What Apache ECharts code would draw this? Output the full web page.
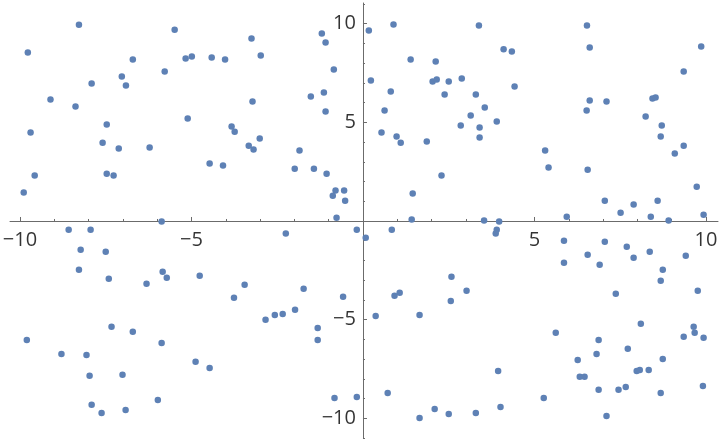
<!DOCTYPE html>
<html>
<head>
<meta charset="utf-8">
<script src="https://cdn.jsdelivr.net/npm/echarts@6/dist/echarts.min.js"></script>
<style>html,body{margin:0;padding:0;background:#fff;}#chart{width:720px;height:442px;}</style>
</head>
<body>
<div id="chart"></div>
<script>
// x and y values of the scatter points
const xValues = [
  -8.28,-5.49,-9.77,-6.71,-5.17,-4.99,-4.41,-4.02,-5.78,-7.03,-6.91,-7.91,-9.11,-8.38,-5.11,-7.47,-9.69,-3.83,-3.74,-7.59,-7.12,-6.22,-4.47,-4.08,-9.57,-7.47,-7.27,-9.89,-5.87,
  -3.25,-2.98,-3.22,-3.01,-3.33,-3.19,-1.20,-1.09,-0.85,-1.52,-1.14,-1.09,-1.85,-1.99,-1.43,-1.06,-0.80,-0.55,-0.88,-0.52,-0.77,0.17,0.89,3.38,0.23,1.39,2.12,2.03,2.15,2.50,2.88,0.81,2.38,3.29,0.63,3.14,2.85,3.40,3.40,0.54,0.98,1.10,1.86,2.29,1.45,1.42,
  6.53,6.61,4.10,4.34,4.42,3.55,3.90,6.61,7.10,6.52,8.44,8.53,9.86,9.35,8.24,8.71,8.68,9.35,9.09,5.31,5.41,6.55,9.73,7.05,7.89,8.59,7.51,5.94,8.39,9.93,8.91,3.53,3.97,
  -8.58,-7.94,-8.23,-7.50,-8.28,-7.41,-6.31,-5.84,-5.72,-4.76,-3.76,-7.33,-6.71,-9.80,-5.87,-8.79,-8.06,-4.88,-4.47,-7.97,-7.01,-5.98,-7.91,-7.62,-6.92,
  -2.25,-0.18,0.08,0.84,-3.45,-1.73,-0.58,-1.98,-2.34,-2.57,-2.84,-1.32,-1.32,-0.83,-0.18,0.72,0.37,0.92,1.07,1.65,2.58,2.56,3.02,1.65,2.09,2.50,3.29,
  3.90,3.87,5.86,7.05,7.69,8.36,6.55,7.89,5.86,6.90,9.41,8.74,8.68,9.76,7.37,8.10,9.64,9.67,9.35,9.93,5.62,6.87,7.72,6.81,8.74,6.26,7.98,8.07,8.33,6.32,6.46,3.94,6.87,7.45,7.66,8.68,9.91,5.27,4.01,7.10
];
const yValues = [
  9.95,9.70,8.54,8.19,8.24,8.34,8.29,8.19,7.58,7.33,6.87,6.97,6.16,5.80,5.19,4.89,4.48,4.79,4.53,3.97,3.67,3.72,2.91,2.81,2.30,2.40,2.30,1.44,-0.03,
  9.25,8.39,6.06,4.18,3.82,3.62,9.51,9.05,7.68,6.31,6.51,5.55,3.57,2.65,2.65,2.40,1.54,1.54,1.28,1.03,0.17,9.66,9.96,9.91,7.12,8.19,8.09,7.07,7.17,7.07,7.22,6.56,6.41,6.41,5.60,5.35,4.84,4.74,4.23,4.48,4.28,3.97,4.03,2.30,1.39,0.07,
  9.91,8.80,8.70,8.59,6.82,5.75,5.04,6.11,6.06,5.60,6.21,6.26,8.85,7.58,5.30,4.84,4.28,3.82,3.42,3.57,2.71,2.60,1.74,1.03,0.83,1.03,0.42,0.22,0.22,0.32,0.02,0.02,-0.03,
  -0.44,-0.44,-1.46,-1.56,-2.47,-2.93,-3.18,-2.57,-2.88,-2.78,-3.89,-5.36,-5.62,-6.03,-6.18,-6.74,-6.79,-7.14,-7.45,-7.85,-7.80,-9.07,-9.32,-9.73,-9.58,
  -0.64,-0.44,-0.85,-0.44,-3.23,-3.44,-3.84,-4.50,-4.71,-4.76,-5.01,-5.42,-6.03,-8.97,-8.92,-8.72,-4.81,-3.79,-3.64,-4.76,-2.83,-4.05,-3.54,-9.98,-9.53,-9.78,-9.73,
  -0.44,-0.64,-1.00,-1.05,-1.30,-1.56,-1.71,-1.86,-2.12,-2.22,-1.76,-2.47,-3.03,-3.54,-3.69,-5.21,-5.36,-5.67,-5.87,-5.92,-5.67,-6.03,-6.48,-6.74,-6.99,-7.04,-7.60,-7.55,-7.55,-7.90,-7.90,-7.60,-8.55,-8.55,-8.41,-8.72,-8.36,-8.97,-9.43,-9.88
];
const xMajorTicks = [-10, -5, 5, 10];
const xMinorTicks = [-9, -8, -7, -6, -4, -3, -2, -1, 1, 2, 3, 4, 6, 7, 8, 9];
const yMajorTicks = [-10, -5, 5, 10];
const yMinorTicks = [-11, -9, -8, -7, -6, -4, -3, -2, -1, 1, 2, 3, 4, 6, 7, 8, 9, 11];

const points = xValues.map((x, i) => [x, yValues[i]]);
const fmt = v => (v < 0 ? '\u2212' + Math.abs(v) : String(v));
const axisColor = '#6b6b6b';
const labelFont = { color: '#000', fontSize: 20, fontFamily: 'Open Sans' };

function tickAxis(min, max, customMajor, customMinor, isMajor) {
  return {
    type: 'value', min: min, max: max,
    axisLine: isMajor
      ? { show: true, onZero: true, lineStyle: { color: axisColor, width: 1 } }
      : { show: false, onZero: true, onZeroAxisIndex: 0 },
    axisTick: { show: true, inside: true, length: isMajor ? 4 : 2,
      customValues: isMajor ? customMajor : customMinor, lineStyle: { color: axisColor } },
    axisLabel: { show: false },
    splitLine: { show: false }
  };
}
const xA = tickAxis(-10.29, 10.35, xMajorTicks, xMinorTicks, true); xA.position = 'bottom';
const xB = tickAxis(-10.29, 10.35, xMajorTicks, xMinorTicks, false); xB.position = 'bottom';
const yA = tickAxis(-11, 11.05, yMajorTicks, yMinorTicks, true); yA.position = 'left';
const yB = tickAxis(-11, 11.05, yMajorTicks, yMinorTicks, false); yB.position = 'left';

const chart = echarts.init(document.getElementById('chart'), null, { renderer: 'canvas' });
chart.setOption({
  animation: false,
  backgroundColor: '#fff',
  grid: { left: 10, right: 2, top: 3, bottom: 4, containLabel: false, outerBoundsMode: 'none' },
  xAxis: [xA, xB],
  yAxis: [yA, yB],
  series: [
    {
      type: 'scatter', xAxisIndex: 0, yAxisIndex: 0,
      data: points, symbol: 'circle', symbolSize: 6.5,
      itemStyle: { color: '#5E81B5', opacity: 1 },
      emphasis: { disabled: true }, silent: true
    },
    {
      // x tick labels, placed on the x axis through the chart's scale
      type: 'scatter', xAxisIndex: 0, yAxisIndex: 0, silent: true,
      data: xMajorTicks.map(v => [v, 0]), symbolSize: 0,
      emphasis: { disabled: true },
      label: Object.assign({ show: true, position: 'bottom', distance: 9,
        formatter: p => fmt(p.value[0]) }, labelFont)
    },
    {
      // y tick labels
      type: 'scatter', xAxisIndex: 0, yAxisIndex: 0, silent: true,
      data: yMajorTicks.map(v => [0, v]), symbolSize: 0,
      emphasis: { disabled: true },
      label: Object.assign({ show: true, position: 'left', distance: 7,
        formatter: p => fmt(p.value[1]) }, labelFont)
    }
  ]
});
</script>
</body>
</html>
